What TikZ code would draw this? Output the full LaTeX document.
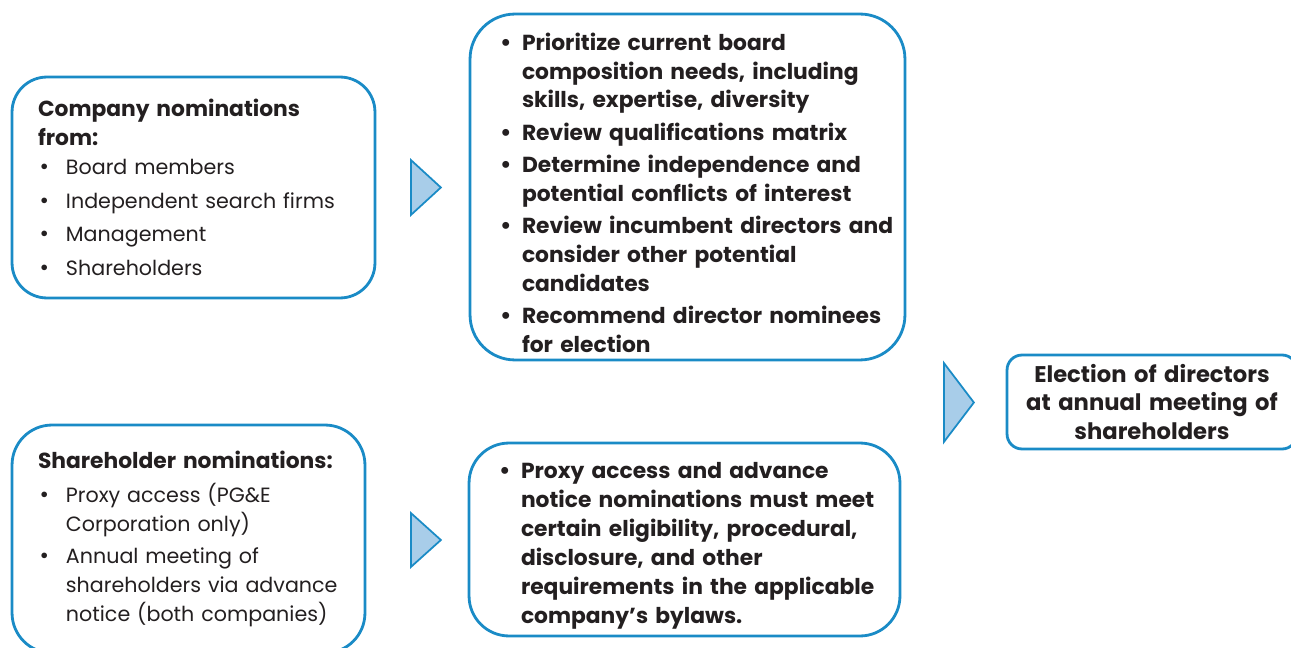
\documentclass[tikz,border=0pt]{standalone}
\usepackage{fontspec}
\setmainfont{Poppins}
\usepackage{enumitem}
\usetikzlibrary{positioning}
\usetikzlibrary{shapes.geometric}

\definecolor{boxblue}{HTML}{1A8BC6}
\definecolor{triblue}{HTML}{A8CDE9}
\definecolor{txtgray}{HTML}{231F20}
\newcommand{\boxfont}{\fontsize{11.75}{16.4}\selectfont}
\newcommand{\headfont}{\fontsize{12.4}{16.4}\selectfont\bfseries}
\newlist{blist}{itemize}{1}
\setlist[blist]{label={\fontsize{13}{13}\selectfont\textbullet}, leftmargin=15.9pt, labelwidth=15pt, labelsep=0pt, align=left, topsep=0pt, partopsep=0pt, parsep=0pt, itemsep=2pt, rightmargin=-1cm}

\tikzset{
  nombox/.style={draw=boxblue, line width=1.6pt, text=txtgray, align=left, font=\boxfont, inner ysep=0pt},
  tri/.style={isosceles triangle, isosceles triangle stretches, draw=boxblue, fill=triblue, line width=1pt, inner sep=0pt, minimum height=0.6cm, anchor=west}
}

\begin{document}
\begin{tikzpicture}[x=0.02cm,y=-0.02cm]
\path[use as bounding box, clip] (0,0) rectangle (1291,648);
%%%%%%%%%%%%%%%%%%%%%%%%%%%%%%%%%
\node[nombox, rounded corners=0.7cm, minimum height=4.42cm, text width=6.22cm, inner xsep=0.52cm] (compbox) at (193.5,187.5) {{\headfont Company nominations\\from:}
\begin{blist}[itemsep=2.8pt]
\item Board members
\item Independent search firms
\item Management
\item Shareholders
\end{blist}};
\node[nombox, rounded corners=0.8cm, minimum height=4.56cm, text width=6.02cm, inner xsep=0.52cm] (shbox) at (188.5,539) {{\headfont Shareholder nominations:}
\begin{blist}[topsep=3pt, itemsep=1.7pt]
\item Proxy access (PG\&E\\Corporation only)
\item Annual meeting of\\shareholders via advance\\notice (both companies)
\end{blist}};
%%%%%%%%%%%%%%%%%%%%%%%%%%%%%%%%%
\node[nombox, rounded corners=0.9cm, minimum height=6.92cm, text width=7.5cm, inner xsep=0.6cm, font=\headfont] (reviewbox) at (687.5,187) {\begin{blist}[leftmargin=12.5pt, labelwidth=12.5pt]
\item Prioritize current board\\composition needs, including\\skills, expertise, diversity
\item Review qualifications matrix
\item Determine independence and\\potential conflicts of interest
\item Review incumbent directors and\\consider other potential\\candidates
\item Recommend director nominees\\for election
\end{blist}};
\node[nombox, rounded corners=0.8cm, minimum height=3.86cm, text width=7.42cm, inner xsep=0.6cm, font=\headfont] (reqbox) at (684.5,539.5) {\begin{blist}[leftmargin=12.5pt, labelwidth=12.5pt]
\item Proxy access and advance\\notice nominations must meet\\certain eligibility, procedural,\\disclosure, and other\\requirements in the applicable\\company’s bylaws.
\end{blist}};
%%%%%%%%%%%%%%%%%%%%%%%%%%%%%%%%%
\node[nombox, rounded corners=0.3cm, minimum height=1.88cm, text width=5.8cm, inner xsep=0pt, align=center, font=\fontsize{12.9}{16.4}\selectfont\bfseries] (electbox) at (1152,402) {Election of directors\\at annual meeting of\\shareholders};
%%%%%%%%%%%%%%%%%%%%%%%%%%%%%%%%%
\node[tri, minimum width=1.1cm] (arr1) at (410,187.5) {};
\node[tri, minimum width=1.08cm] (arr2) at (410,540) {};
\node[tri, minimum width=1.58cm] (arr3) at (943,402.5) {};
\end{tikzpicture}
\end{document}
